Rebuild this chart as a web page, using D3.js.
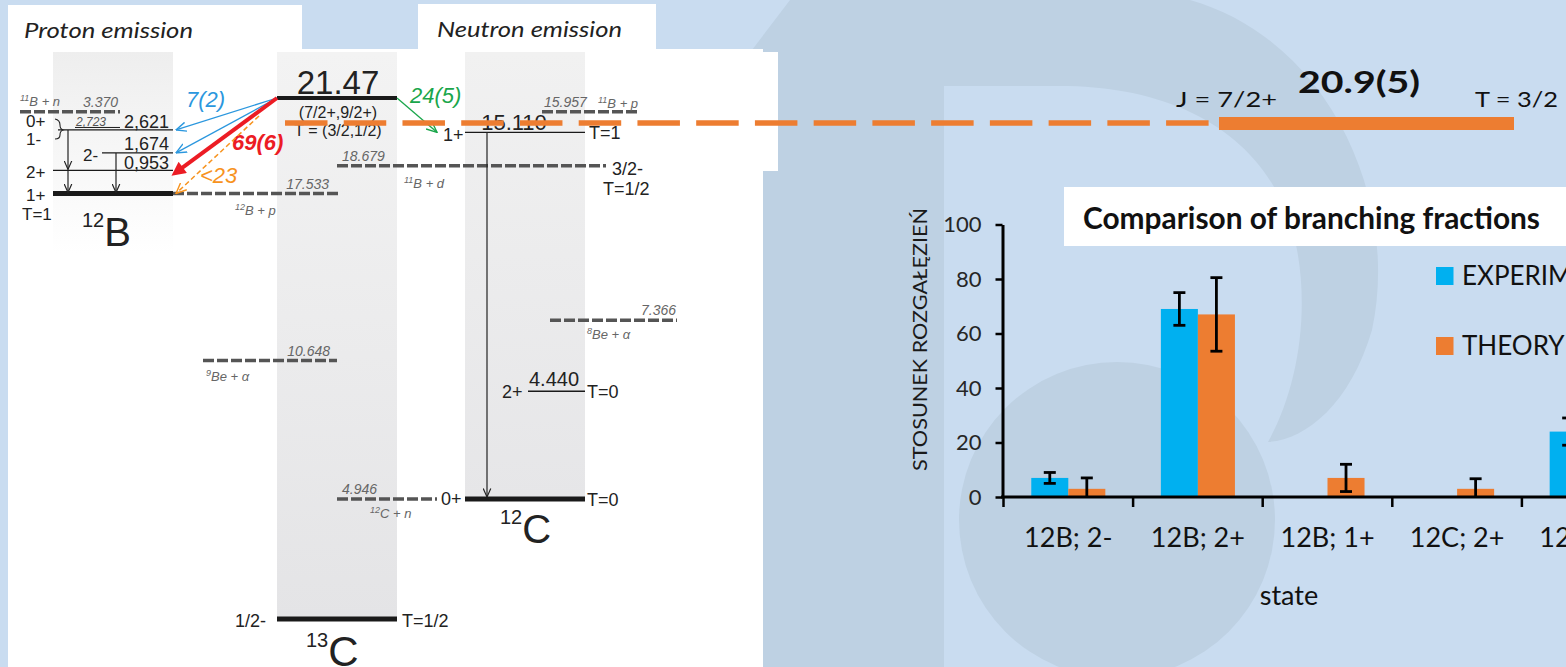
<!DOCTYPE html>
<html>
<head>
<meta charset="utf-8">
<script src="https://cdn.jsdelivr.net/npm/d3@7"></script>
<style>
  html, body { margin: 0; padding: 0; background: #c9dcf0; overflow: hidden; }
  svg { display: block; }
  .arial { font-family: "Liberation Sans", Arial, sans-serif; }
  .cal { font-family: Lato, "Open Sans", sans-serif; }
</style>
</head>
<body>
<svg id="wrapper" width="1566" height="667"></svg>
<script>
// ---------- level scheme (MeV) ----------
const resonanceE = 21.47;
const groundOf = { B12: 17.533, C13: 0, C12: 4.946 };   // ground states on the 13C scale
const levels12B = [0, 0.953, 1.674, 2.621, 2.723];
const spins12B = ["1+", "2+", "2-", "1-", "0+"];
const levels12C = [0, 4.440, 15.110];
const spins12C = ["0+", "2+", "1+"];
const isospin12C = ["T=0", "T=0", "T=1"];
const thresholdE = [3.370, 17.533, 18.679, 10.648, 4.946, 15.957, 7.366];
const thresholdOf = ["B12", "C13", "C13", "C13", "C13", "C12", "C12"];
const thresholdChannel = ["11B + n", "12B + p", "11B + d", "9Be + α", "12C + n", "11B + p", "8Be + α"];
const branchTo = [2.621, 1.674, 0.953, 0, 15.110];
const branchNucleus = ["B12", "B12", "B12", "B12", "C12"];
const branchLabel = ["7(2)", null, "69(6)", "<23", "24(5)"];

// ---------- branching fractions ----------
const states = ["12B; 2-", "12B; 2+", "12B; 1+", "12C; 2+", "12C; 1+"];
const seriesNames = ["EXPERIMENT", "THEORY"];
const expValues = [7, 69, null, null, 24];
const expErrors = [2, 6, null, null, 5];
const theoryValues = [3, 67, 7, 3, null];
const theoryErrors = [4, 13.5, 5, 3.7, null];
const yTicks = [0, 20, 40, 60, 80, 100];

const W = 1566, H = 667;
const svg = d3.select("#wrapper");
const defs = svg.append("defs");

function txt(g, x, y, s, o = {}) {
  const t = g.append("text")
    .attr("x", x).attr("y", y)
    .attr("class", o.cls || "arial")
    .attr("font-size", o.size || 16)
    .attr("fill", o.fill || "#222")
    .attr("text-anchor", o.anchor || "start")
    .text(s);
  if (o.italic) t.attr("font-style", "italic");
  if (o.bold) t.attr("font-weight", "bold");
  if (o.len) t.attr("textLength", o.len).attr("lengthAdjust", "spacingAndGlyphs");
  return t;
}

// label like 11B + n with raised mass number
function isoLabel(g, x, y, s) {
  const m = s.match(/^(\d+)(.*)$/);
  const t = g.append("text").attr("x", x).attr("y", y)
    .attr("class", "arial").attr("fill", "#666").attr("font-style", "italic");
  t.append("tspan").attr("font-size", 9).attr("dy", -5).text(m[1]);
  t.append("tspan").attr("font-size", 13).attr("dy", 5).text(m[2]);
  return t;
}

// ---------- background ----------
svg.append("rect").attr("width", W).attr("height", H).attr("fill", "#c9dcf0");
const wm = svg.append("g").attr("fill", "#bed1e3");
wm.append("path").attr("d", "M752,50 L790,0 L944,0 L944,667 L763,667 Z");
wm.append("path").attr("d", "M944,0 L1190,0 C1330,40 1400,200 1372,330 C1350,405 1305,440 1268,442 C1300,385 1312,300 1292,228 C1262,130 1170,86 1060,86 L944,86 Z");
wm.append("circle").attr("cx", 1117).attr("cy", 520).attr("r", 158);

// white picture panels
const panel = svg.append("g").attr("fill", "#fff");
panel.append("rect").attr("x", 8).attr("y", 5).attr("width", 294).attr("height", 46);
panel.append("rect").attr("x", 418).attr("y", 4).attr("width", 238).attr("height", 48);
panel.append("rect").attr("x", 8).attr("y", 49).attr("width", 755).attr("height", 618);
panel.append("rect").attr("x", 300).attr("y", 52).attr("width", 478).attr("height", 119);

txt(svg, 24, 38, "Proton emission", { cls: "cal", size: 22, italic: true, len: 169 });
txt(svg, 437, 37, "Neutron emission", { cls: "cal", size: 22, italic: true, len: 185 });

// ---------- level diagram ----------
const yE = d3.scaleLinear().domain([0, resonanceE]).range([619, 98]);
const cols = { B12: [53, 173], C13: [277, 397], C12: [465, 585] };

function grad(id, c0, c1) {
  const g = defs.append("linearGradient").attr("id", id)
    .attr("x1", 0).attr("y1", 0).attr("x2", 0).attr("y2", 1);
  g.append("stop").attr("offset", "0%").attr("stop-color", c0);
  g.append("stop").attr("offset", "100%").attr("stop-color", c1);
}
grad("g12B", "#eeeeee", "#ffffff");
grad("g13C", "#f3f3f3", "#e4e4e6");
grad("g12C", "#f1f1f1", "#e6e6e8");

const lv = svg.append("g");
lv.append("rect").attr("x", cols.B12[0]).attr("y", 52).attr("width", 120)
  .attr("height", yE(groundOf.B12) + 60 - 52).attr("fill", "url(#g12B)");
lv.append("rect").attr("x", cols.C13[0]).attr("y", 52).attr("width", 120)
  .attr("height", yE(0) - 52).attr("fill", "url(#g13C)");
lv.append("rect").attr("x", cols.C12[0]).attr("y", 52).attr("width", 120)
  .attr("height", yE(groundOf.C12) - 52).attr("fill", "url(#g12C)");

// arrow heads
function mk(id, color, w, h, filled) {
  const m = defs.append("marker").attr("id", id).attr("viewBox", "0 0 10 10")
    .attr("refX", filled ? 6 : 9.5).attr("refY", 5)
    .attr("markerUnits", "userSpaceOnUse").attr("markerWidth", w).attr("markerHeight", h)
    .attr("orient", "auto");
  m.append("path").attr("d", filled ? "M0,0 L10,5 L0,10 Z" : "M0,0.8 L9.5,5 L0,9.2")
    .attr("fill", filled ? color : "none").attr("stroke", filled ? "none" : color)
    .attr("stroke-width", 1.3);
}
mk("hk", "#222", 9, 9, false);
mk("hb", "#2b97de", 11, 11, false);
mk("hr", "#ec1c24", 16, 14, true);
mk("ho", "#f7931e", 11, 11, false);
mk("hg", "#1aa64b", 11, 11, false);

// thresholds
const thrLay = [
  { x0: 20, x1: 120, ex: 118, ea: "end", cx: 20, cdy: -6 },
  { x0: 173, x1: 338, ex: 329, ea: "end", cx: 235, cdy: 21 },
  { x0: 337, x1: 606, ex: 342, ea: "start", cx: 404, cdy: 22 },
  { x0: 203, x1: 337, ex: 330, ea: "end", cx: 206, cdy: 20 },
  { x0: 337, x1: 437, ex: 342, ea: "start", cx: 370, cdy: 19 },
  { x0: 542, x1: 638, ex: 544, ea: "start", cx: 598, cdy: -4 },
  { x0: 550, x1: 677, ex: 676, ea: "end", cx: 587, cdy: 19 }
];
const f3 = d3.format(".3f");
thresholdE.forEach((e, i) => {
  const y = yE(groundOf[thresholdOf[i]] + e), L = thrLay[i];
  lv.append("line").attr("x1", L.x0).attr("x2", L.x1).attr("y1", y).attr("y2", y)
    .attr("stroke", "#555").attr("stroke-width", 3.5).attr("stroke-dasharray", "11,3");
  txt(lv, L.ex, y - 5, f3(e), { size: 14, italic: true, fill: "#666", anchor: L.ea });
  isoLabel(lv, L.cx, y + L.cdy, thresholdChannel[i]);
});

// 12B levels
const lay12B = [
  { x0: 53, x1: 173, w: 5, sdy: 7 },
  { x0: 53, x1: 173, w: 1.3, sdy: 8, edy: -1.5 },
  { x0: 102, x1: 173, w: 1.3, sdy: 8, sx: 83, edy: -2.5 },
  { x0: 58, x1: 173, w: 1.3, sdy: 15, edy: -1.5 },
  { x0: 75, x1: 120, w: 1, sdy: 0 }
];
levels12B.forEach((e, i) => {
  const y = yE(groundOf.B12 + e), L = lay12B[i];
  lv.append("line").attr("x1", L.x0).attr("x2", L.x1).attr("y1", y).attr("y2", y)
    .attr("stroke", "#1a1a1a").attr("stroke-width", L.w);
  txt(lv, L.sx || 26, y + L.sdy, spins12B[i], { size: 17 });
  if (i > 0 && i < 4) txt(lv, 124, y + L.edy, f3(e).replace(".", ","), { size: 18 });
  if (i === 4) txt(lv, 76, y - 1, f3(e).replace(".", ","), { size: 12, italic: true, fill: "#555" });
});
txt(lv, 22, yE(groundOf.B12) + 26, "T=1", { size: 17 });
lv.append("path").attr("d", "M55,119 Q60,120 60,125 Q60,129 63,130 Q60,131 60,135 Q60,139 55,139")
  .attr("fill", "none").attr("stroke", "#222").attr("stroke-width", 1.1);
// gamma cascades in 12B
[[2.621, 0.953], [0.953, 0], [1.674, 0]].forEach(([a, b], i) => {
  const x = i < 2 ? 68 : 116;
  lv.append("line").attr("x1", x).attr("x2", x)
    .attr("y1", yE(groundOf.B12 + a)).attr("y2", yE(groundOf.B12 + b) - 1)
    .attr("stroke", "#222").attr("stroke-width", 1.2).attr("marker-end", "url(#hk)");
});
const nuc = (x, y, mass, sym, big) => {
  const t = lv.append("text").attr("x", x).attr("y", y).attr("class", "arial").attr("fill", "#222");
  t.append("tspan").attr("font-size", 20).attr("dy", -19).text(mass);
  t.append("tspan").attr("font-size", big).attr("dy", 19).text(sym);
};
nuc(82, 246, "12", "B", 40);

// 13C
const yR = yE(resonanceE);
lv.append("line").attr("x1", cols.C13[0]).attr("x2", cols.C13[1]).attr("y1", yR).attr("y2", yR)
  .attr("stroke", "#1a1a1a").attr("stroke-width", 4);
txt(lv, 338, yR - 4, d3.format(".2f")(resonanceE), { size: 33, anchor: "middle" });
txt(lv, 338, yR + 20, "(7/2+,9/2+)", { size: 16, anchor: "middle" });
txt(lv, 338, yR + 38, "T = (3/2,1/2)", { size: 16, anchor: "middle" });
lv.append("line").attr("x1", cols.C13[0]).attr("x2", cols.C13[1]).attr("y1", yE(0)).attr("y2", yE(0))
  .attr("stroke", "#1a1a1a").attr("stroke-width", 5);
txt(lv, 235, yE(0) + 8, "1/2-", { size: 18 });
txt(lv, 402, yE(0) + 8, "T=1/2", { size: 18 });
nuc(306, 666, "13", "C", 42);
txt(lv, 612, yE(groundOf.C13 + 18.679) + 9, "3/2-", { size: 18 });
txt(lv, 603, yE(groundOf.C13 + 18.679) + 29, "T=1/2", { size: 18 });

// 12C levels
const lay12C = [
  { x0: 465, x1: 585, w: 5, sx: 441, sdy: 6, tx: 587, ex: null },
  { x0: 528, x1: 585, w: 1.3, sx: 502, sdy: 7, tx: 587, ex: 554, edy: -5, es: 20 },
  { x0: 465, x1: 585, w: 1.3, sx: 443, sdy: 9, tx: 589, ex: 514, edy: -2, es: 22 }
];
levels12C.forEach((e, i) => {
  const y = yE(groundOf.C12 + e), L = lay12C[i];
  lv.append("line").attr("x1", L.x0).attr("x2", L.x1).attr("y1", y).attr("y2", y)
    .attr("stroke", "#1a1a1a").attr("stroke-width", L.w);
  txt(lv, L.sx, y + L.sdy, spins12C[i], { size: 18 });
  txt(lv, L.tx, y + 7, isospin12C[i], { size: 18 });
  if (L.ex) txt(lv, L.ex, y + L.edy, f3(e), { size: L.es, anchor: "middle" });
});
lv.append("line").attr("x1", 487).attr("x2", 487)
  .attr("y1", yE(groundOf.C12 + 15.110)).attr("y2", yE(groundOf.C12) - 2)
  .attr("stroke", "#222").attr("stroke-width", 1.2).attr("marker-end", "url(#hk)");
nuc(500, 543, "12", "C", 40);

// branches from the 21.47 state
const brColor = ["#2b97de", "#2b97de", "#ec1c24", "#f7931e", "#1aa64b"];
const brHead = ["hb", "hb", "hr", "ho", "hg"];
const brStart = [[277, 0], [277, 0], [277, 0], [259, 18], [397, 0]];
const brLabelPos = [[186, 107], null, [232, 150], [200, 183], [410, 103]];
branchTo.forEach((e, i) => {
  const y = yE(groundOf[branchNucleus[i]] + e);
  const xEnd = branchNucleus[i] === "B12" ? 176 : 437;
  const l = lv.append("line")
    .attr("x1", brStart[i][0]).attr("y1", yR + brStart[i][1])
    .attr("x2", xEnd).attr("y2", y + (i === 2 ? 2 : 0))
    .attr("stroke", brColor[i]).attr("stroke-width", i === 2 ? 4 : 1.3)
    .attr("marker-end", `url(#${brHead[i]})`);
  if (i === 3) l.attr("stroke-dasharray", "5,3").attr("stroke-width", 1.5);
  if (branchLabel[i]) {
    txt(lv, brLabelPos[i][0], brLabelPos[i][1], branchLabel[i],
      { size: 22, italic: true, bold: i === 2, fill: brColor[i] });
  }
});

// ---------- slide overlay: 20.9(5) level ----------
const ov = svg.append("g");
ov.append("line").attr("x1", 285).attr("x2", 1209).attr("y1", 123).attr("y2", 123)
  .attr("stroke", "#ed7d31").attr("stroke-width", 5.5).attr("stroke-dasharray", "42.5,16.24");
ov.append("rect").attr("x", 1219).attr("y", 117).attr("width", 295).attr("height", 13).attr("fill", "#ed7d31");
txt(ov, 1176, 107, "J = 7/2+", { cls: "cal", size: 21, fill: "#111", len: 101 });
txt(ov, 1298, 93, "20.9(5)", { cls: "cal", size: 31, bold: true, fill: "#111", len: 122 });
txt(ov, 1475, 107, "T = 3/2", { cls: "cal", size: 21, fill: "#111", len: 83 });

// ---------- bar chart ----------
const bc = svg.append("g");
bc.append("rect").attr("x", 1064).attr("y", 187).attr("width", 520).attr("height", 59).attr("fill", "#fff");
txt(bc, 1083, 229, "Comparison of branching fractions", { cls: "cal", size: 30, bold: true, fill: "#111", len: 457 });

const x0 = d3.scaleBand().domain(states).range([1003.5, 1003.5 + 129.6 * states.length]);
const x1 = d3.scaleBand().domain(seriesNames).range([0, x0.bandwidth()]).paddingOuter(0.75);
const y = d3.scaleLinear().domain([0, 100]).range([497, 224.5]);
const color = d3.scaleOrdinal().domain(seriesNames).range(["#00b0f0", "#ed7d31"]);

const rows = states.map((s, i) => ({
  state: s,
  vals: [
    { k: "EXPERIMENT", v: expValues[i], e: expErrors[i] },
    { k: "THEORY", v: theoryValues[i], e: theoryErrors[i] }
  ].filter(d => d.v != null)
}));

const grp = bc.selectAll("g.grp").data(rows).join("g").attr("class", "grp")
  .attr("transform", d => `translate(${x0(d.state)},0)`);
grp.selectAll("rect").data(d => d.vals).join("rect")
  .attr("x", d => x1(d.k)).attr("width", x1.bandwidth())
  .attr("y", d => y(d.v)).attr("height", d => y(0) - y(d.v))
  .attr("fill", d => color(d.k));
const eb = grp.selectAll("g.err").data(d => d.vals).join("g").attr("class", "err")
  .attr("stroke", "#000").attr("stroke-width", 2.8);
eb.append("line")
  .attr("x1", d => x1(d.k) + x1.bandwidth() / 2).attr("x2", d => x1(d.k) + x1.bandwidth() / 2)
  .attr("y1", d => y(d.v + d.e)).attr("y2", d => y(Math.max(0, d.v - d.e)));
eb.append("line")
  .attr("x1", d => x1(d.k) + x1.bandwidth() / 2 - 6).attr("x2", d => x1(d.k) + x1.bandwidth() / 2 + 6)
  .attr("y1", d => y(d.v + d.e)).attr("y2", d => y(d.v + d.e));
eb.filter(d => d.v - d.e > 0).append("line")
  .attr("x1", d => x1(d.k) + x1.bandwidth() / 2 - 6).attr("x2", d => x1(d.k) + x1.bandwidth() / 2 + 6)
  .attr("y1", d => y(d.v - d.e)).attr("y2", d => y(d.v - d.e));

// axes
const yAxis = bc.append("g").attr("transform", `translate(1002.5,0)`)
  .call(d3.axisLeft(y).tickValues(yTicks).tickSize(7).tickSizeOuter(0).tickPadding(14));
yAxis.select(".domain").attr("stroke", "#000").attr("stroke-width", 3);
yAxis.selectAll(".tick line").attr("stroke", "#000").attr("stroke-width", 2.5);
yAxis.selectAll(".tick text").attr("class", "cal").attr("font-size", 22).attr("fill", "#262626");

bc.append("line").attr("x1", 1001).attr("x2", W + 10).attr("y1", y(0)).attr("y2", y(0))
  .attr("stroke", "#000").attr("stroke-width", 3);
bc.selectAll("line.bnd").data(states).join("line").attr("class", "bnd")
  .attr("x1", d => x0(d)).attr("x2", d => x0(d)).attr("y1", y(0)).attr("y2", y(0) + 10)
  .attr("stroke", "#000").attr("stroke-width", 2.5);
const xAxis = bc.append("g").attr("transform", `translate(0,${y(0)})`)
  .call(d3.axisBottom(x0).tickSize(0).tickPadding(31));
xAxis.select(".domain").remove();
xAxis.selectAll(".tick text").attr("class", "cal").attr("font-size", 27).attr("fill", "#111");

txt(bc, 1289, 605, "state", { cls: "cal", size: 27, anchor: "middle", fill: "#111" });
bc.append("text").attr("class", "cal")
  .attr("transform", "translate(927,339.5) rotate(-90)")
  .attr("text-anchor", "middle").attr("font-size", 20).attr("fill", "#1a1a1a")
  .attr("textLength", 263).attr("lengthAdjust", "spacingAndGlyphs")
  .text("STOSUNEK ROZGAŁĘZIEŃ");

// legend
const lg = bc.selectAll("g.lg").data(seriesNames).join("g").attr("class", "lg")
  .attr("transform", (d, i) => `translate(1436,${267 + i * 70})`);
lg.append("rect").attr("width", 17.5).attr("height", 18).attr("fill", d => color(d));
lg.append("text").attr("class", "cal").attr("x", 26).attr("y", 18)
  .attr("font-size", 26).attr("fill", "#111").text(d => d);
</script>
</body>
</html>
